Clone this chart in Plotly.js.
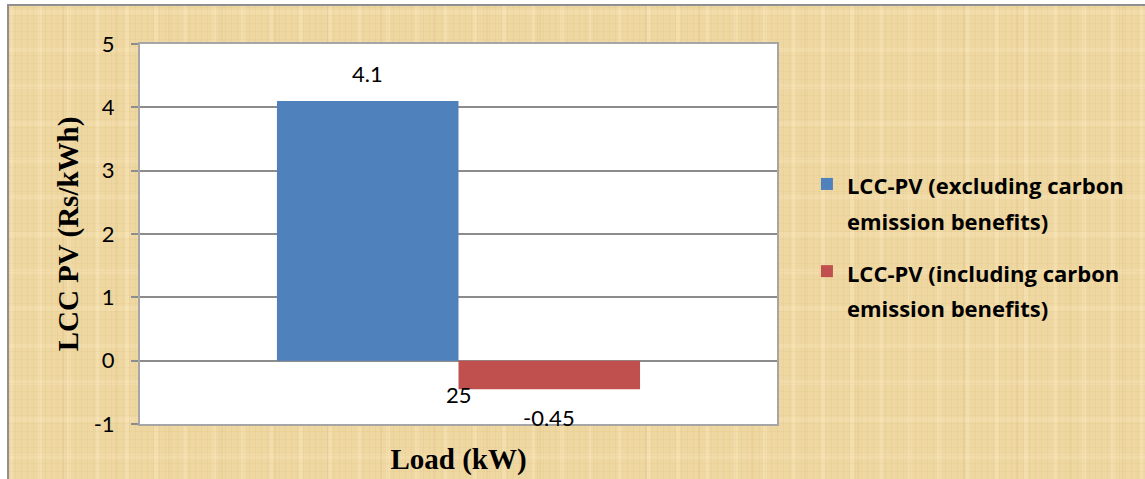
<!DOCTYPE html>
<html>
<head>
<meta charset="utf-8">
<script src="https://cdn.plot.ly/plotly-3.0.1.min.js"></script>
<style>
  html, body { margin: 0; padding: 0; background: #ffffff; }
  #wrap { position: relative; width: 1145px; height: 479px; overflow: hidden; }
  /* papyrus-like backdrop behind the chart */
  #paper {
    position: absolute; left: 7px; top: 4px; width: 1160px; height: 490px;
    border-left: 2px solid #8f8f8f; border-top: 2px solid #8f8f8f;
    background-color: #eed7a1;
    background-image:
      repeating-linear-gradient(90deg, rgba(185,145,75,0.07) 0px, rgba(185,145,75,0.07) 1px, transparent 1px, transparent 6px),
      repeating-linear-gradient(0deg, rgba(185,145,75,0.06) 0px, rgba(185,145,75,0.06) 1px, transparent 1px, transparent 8px),
      repeating-linear-gradient(90deg, rgba(255,238,200,0.30) 0px, rgba(255,238,200,0.30) 4px, transparent 4px, transparent 29px),
      repeating-linear-gradient(0deg, rgba(255,238,200,0.22) 0px, rgba(255,238,200,0.22) 5px, transparent 5px, transparent 37px),
      repeating-linear-gradient(90deg, rgba(200,160,95,0.10) 0px, rgba(200,160,95,0.10) 2px, transparent 2px, transparent 53px);
  }
  #chart { position: absolute; left: 0; top: 0; width: 1145px; height: 479px; }
</style>
</head>
<body>
<div id="wrap">
  <div id="paper"></div>
  <div id="chart"></div>
</div>
<script>
// Levelised cost of PV electricity at a 25 kW load
const categories = ["25"];
const seriesNames = [
  "LCC-PV (excluding carbon<br>emission benefits)",
  "LCC-PV (including carbon<br>emission benefits)"
];
const lccExcluding = [4.1];
const lccIncluding = [-0.45];
const seriesColors = ["#4f81bd", "#c0504d"];
const yTickValues = [-1, 0, 1, 2, 3, 4, 5];
const yTickLabels = ["-1", "0", "1", "2", "3", "4", "5"];

const barGap = 0.43;
const series = [lccExcluding, lccIncluding];
const barWidth = (1 - barGap) / series.length;
const labelFont = { family: "Lato, 'Open Sans', sans-serif", size: 22, color: "#000" };

const traces = series.map((vals, i) => ({
  type: "bar",
  name: '<span style="font-size:22px;font-weight:bold">' + seriesNames[i] + "</span>",
  legendgroup: "s" + i,
  x: categories,
  y: vals,
  marker: { color: seriesColors[i] },
  hoverinfo: "skip"
}));

// value labels above / below each bar
const annotations = [];
series.forEach((vals, i) => {
  vals.forEach((v, j) => {
    annotations.push({
      xref: "x", yref: "y",
      x: j - (1 - barGap) / 2 + barWidth * (i + 0.5),
      y: v,
      text: String(v),
      showarrow: false,
      yshift: v >= 0 ? 28 : -28,
      font: labelFont
    });
  });
});
// category label sits next to the zero axis
categories.forEach((c, j) => {
  annotations.push({
    xref: "x", yref: "y", x: j, y: 0,
    text: c, showarrow: false, yshift: -34,
    font: labelFont
  });
});

const layout = {
  width: 1145, height: 479,
  margin: { l: 140, r: 368, t: 44, b: 55 },
  paper_bgcolor: "rgba(0,0,0,0)",
  plot_bgcolor: "#ffffff",
  barmode: "group",
  bargap: barGap,
  bargroupgap: 0,
  showlegend: true,
  legend: {
    x: 1.047, xanchor: "left",
    y: 0.695, yanchor: "top",
    valign: "top",
    tracegroupgap: 14,
    bgcolor: "rgba(0,0,0,0)",
    font: { family: "'Open Sans', Lato, sans-serif", size: 27, color: "#000", weight: 700 }
  },
  xaxis: {
    type: "category",
    showticklabels: false,
    showgrid: false,
    ticks: "",
    showline: true, mirror: true, linecolor: "#a6a6a6", linewidth: 2,
    title: {
      text: "<b>Load (kW)</b>",
      font: { family: "'Liberation Serif', 'Times New Roman', serif", size: 29, color: "#000" },
      standoff: 24
    },
    fixedrange: true
  },
  yaxis: {
    range: [-1, 5],
    tickmode: "array",
    tickvals: yTickValues,
    ticktext: yTickLabels,
    showgrid: true, gridcolor: "#8c8c8c", gridwidth: 2,
    zeroline: true, zerolinecolor: "#8c8c8c", zerolinewidth: 2,
    showline: true, mirror: true, linecolor: "#a6a6a6", linewidth: 2,
    ticks: "outside", ticklen: 7, tickcolor: "#8c8c8c", tickwidth: 2,
    ticklabelstandoff: 12,
    tickfont: labelFont,
    title: {
      text: "<b>LCC PV (Rs/kWh)</b>",
      font: { family: "'Liberation Serif', 'Times New Roman', serif", size: 29, color: "#000" },
      standoff: 7
    },
    fixedrange: true
  },
  annotations: annotations
};

Plotly.newPlot("chart", traces, layout, { displayModeBar: false, staticPlot: true });
</script>
</body>
</html>
